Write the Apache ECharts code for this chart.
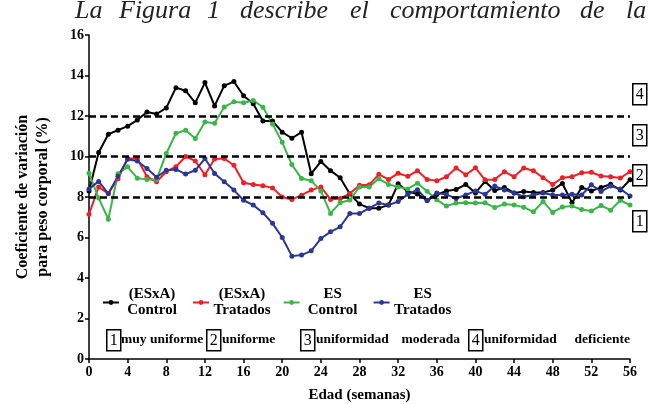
<!DOCTYPE html>
<html>
<head>
<meta charset="utf-8">
<script src="https://cdn.jsdelivr.net/npm/echarts@6/dist/echarts.min.js"></script>
<style>
html, body { margin: 0; padding: 0; background: #fff; }
#chart { width: 658px; height: 404px; }
</style>
</head>
<body>
<div id="chart"></div>
<script>
var weeks = [];
for (var w = 0; w <= 56; w++) { weeks.push(w); }
var limites = [8, 10, 12];

var esxaControl = [8.3, 10.2, 11.1, 11.3, 11.5, 11.8, 12.2, 12.1, 12.4, 13.4,
    13.25, 12.65, 13.65, 12.5, 13.5, 13.7, 13.0, 12.6, 11.75, 11.75,
    11.2, 10.9, 11.2, 9.15, 9.75, 9.3, 8.95, 8.15, 7.65, 7.45,
    7.45, 7.6, 8.65, 8.27, 8.15, 7.83, 8.12, 8.3, 8.37, 8.62,
    8.2, 8.77, 8.32, 8.47, 8.2, 8.27, 8.22, 8.22, 8.34, 8.67,
    7.72, 8.47, 8.3, 8.47, 8.63, 8.34, 8.85];
var esxaTratados = [7.15, 8.5, 8.17, 8.9, 9.9, 9.9, 9.0, 8.75, 9.25, 9.5,
    10.0, 9.78, 9.1, 9.88, 9.9, 9.57, 8.7, 8.62, 8.56, 8.45,
    8.0, 7.88, 8.09, 8.34, 8.5, 7.88, 7.93, 8.17, 8.58, 8.6,
    9.12, 8.87, 9.17, 9.02, 9.3, 8.87, 8.8, 9.0, 9.43, 9.1,
    9.44, 8.85, 8.87, 9.25, 9.0, 9.43, 9.3, 8.95, 8.62, 8.95,
    9.0, 9.2, 9.22, 9.04, 9.0, 8.94, 9.25];
var esControl = [9.17, 7.95, 6.9, 9.15, 9.49, 8.93, 8.87, 8.87, 10.15, 11.15,
    11.3, 10.89, 11.7, 11.64, 12.45, 12.7, 12.65, 12.77, 12.43, 11.6,
    10.7, 9.6, 8.91, 8.8, 8.3, 7.19, 7.72, 7.85, 8.5, 8.5,
    8.9, 8.62, 8.5, 8.4, 8.68, 8.28, 7.86, 7.55, 7.7, 7.72,
    7.7, 7.71, 7.48, 7.65, 7.6, 7.5, 7.27, 7.78, 7.24, 7.51,
    7.55, 7.38, 7.31, 7.58, 7.35, 7.84, 7.6];
var esTratados = [8.4, 8.77, 8.17, 9.02, 9.86, 9.78, 9.41, 8.98, 9.32, 9.36,
    9.13, 9.32, 9.9, 9.16, 8.75, 8.34, 7.84, 7.6, 7.22, 6.7,
    6.0, 5.08, 5.13, 5.34, 5.95, 6.28, 6.53, 7.19, 7.18, 7.45,
    7.7, 7.6, 7.78, 8.13, 8.36, 7.84, 8.2, 8.12, 7.93, 8.1,
    8.3, 8.13, 8.54, 8.35, 8.2, 8.01, 8.1, 8.2, 8.1, 8.1,
    8.13, 8.1, 8.6, 8.27, 8.54, 8.4, 8.05];

var serie = function (name, values, color) {
    var data = weeks.map(function (wk, i) { return [wk, values[i]]; });
    return {
        name: name,
        type: 'line',
        data: data,
        color: color,
        symbol: 'circle',
        symbolSize: 5,
        lineStyle: { width: 2, color: color },
        itemStyle: { color: color },
        z: 3
    };
};

var fuente = 'Liberation Serif, Times New Roman, serif';
var chart = echarts.init(document.getElementById('chart'), null, { renderer: 'canvas' });

var series = [
    serie('(ESxA)\nControl', esxaControl, '#000000'),
    serie('(ESxA)\nTratados', esxaTratados, '#ec2027'),
    serie('ES\nControl', esControl, '#3bb64a'),
    serie('ES\nTratados', esTratados, '#2b3796')
];
series[0].markLine = {
    silent: true,
    symbol: 'none',
    label: { show: false },
    lineStyle: { color: '#000', type: [7, 4], width: 2.5 },
    data: limites.map(function (v) { return { yAxis: v }; })
};

// cajas 1-4 a la derecha y la leyenda de uniformidad
var caja = function (txt, x, y) {
    return {
        type: 'text', left: x, top: y,
        style: {
            text: txt, font: '16px ' + fuente, fill: '#000',
            borderColor: '#000', borderWidth: 1.5, padding: [3, 3, 2, 3]
        }
    };
};
var etiqueta = function (txt, x, y, lado) {
    var e = {
        type: 'text', top: y,
        style: { text: txt, font: 'bold 13.5px ' + fuente, fill: '#000' }
    };
    if (lado === 'r') { e.right = x; } else { e.left = x; }
    return e;
};
var palabra = function (txt, x) {
    return {
        type: 'text', left: x, top: -2,
        style: { text: txt, font: 'italic 26px ' + fuente, fill: '#222' }
    };
};

chart.setOption({
    animation: false,
    grid: { left: 89, right: 28, top: 35, bottom: 45, outerBoundsMode: 'none' },
    legend: {
        left: 97, top: 282,
        itemWidth: 16, itemHeight: 6, itemGap: 12,
        data: series.map(function (s) { return s.name; }),
        formatter: function (n) {
            var p = n.split('\n');
            return '{c|' + p[0] + '}\n{c|' + p[1] + '}';
        },
        textStyle: {
            rich: { c: { width: 56, align: 'center', fontFamily: fuente, fontWeight: 'bold', fontSize: 15, lineHeight: 16, color: '#000' } }
        }
    },
    xAxis: {
        type: 'value', min: 0, max: 56, interval: 4,
        name: 'Edad (semanas)', nameLocation: 'middle', nameGap: 29,
        nameTextStyle: { fontFamily: fuente, fontWeight: 'bold', fontSize: 15, color: '#000' },
        axisLine: { lineStyle: { color: '#000', width: 1.5 } },
        axisTick: { length: 4, lineStyle: { color: '#000', width: 1.5 } },
        axisLabel: { fontFamily: fuente, fontWeight: 'bold', fontSize: 14, color: '#000', margin: 6 },
        splitLine: { show: false }
    },
    yAxis: {
        type: 'value', min: 0, max: 16, interval: 2,
        name: 'Coeficiente de variación\npara peso corporal (%)',
        nameLocation: 'middle', nameGap: 36, nameRotate: 90,
        nameTextStyle: { fontFamily: fuente, fontWeight: 'bold', fontSize: 16, color: '#000', lineHeight: 20 },
        axisLine: { show: true, lineStyle: { color: '#000', width: 1.5 } },
        axisTick: { show: true, length: 4, lineStyle: { color: '#000', width: 1.5 } },
        axisLabel: { fontFamily: fuente, fontWeight: 'bold', fontSize: 14, color: '#000', margin: 5 },
        splitLine: { show: false }
    },
    graphic: [
        palabra('La', 75), palabra('Figura', 119), palabra('1', 207), palabra('describe', 240),
        palabra('el', 350), palabra('comportamiento', 390), palabra('de', 580), palabra('la', 626),
        caja('4', 632, 83), caja('3', 632, 124), caja('2', 632, 164), caja('1', 632, 210),
        caja('1', 106, 329), etiqueta('muy uniforme', 121, 333),
        caja('2', 206, 329), etiqueta('uniforme', 222, 333),
        caja('3', 300, 329), etiqueta('uniformidad', 316, 333), etiqueta('moderada', 198, 333, 'r'),
        caja('4', 468, 329), etiqueta('uniformidad', 484, 333), etiqueta('deficiente', 28, 333, 'r')
    ],
    series: series
});
</script>
</body>
</html>
